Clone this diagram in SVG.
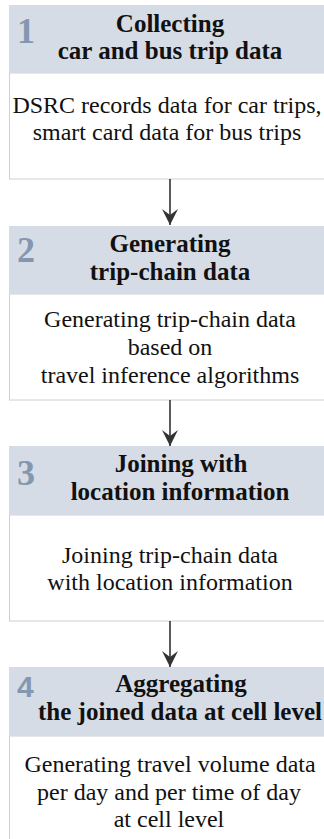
<svg xmlns="http://www.w3.org/2000/svg" width="324" height="839" viewBox="0 0 324 839">
<style>
.hd{fill:#d6dce5}
.bd{fill:#ffffff;stroke:#d0d0d0;stroke-width:1}
.num{font-family:'Liberation Serif','Times New Roman','DejaVu Serif',serif;font-weight:bold;font-size:36px;fill:#8497b0}
.num4{font-family:'Liberation Sans',Arial,sans-serif;font-weight:bold;font-size:30px;fill:#8497b0}
.ht{font-family:'Liberation Serif','Times New Roman','DejaVu Serif',serif;font-weight:bold;font-size:25px;fill:#111;text-anchor:middle}
.bt{font-family:'Liberation Serif','Times New Roman','DejaVu Serif',serif;font-size:24px;fill:#111;text-anchor:middle}
.con{stroke:#333;stroke-width:1.6;fill:none}
</style>
<defs>
<marker id="ah" markerWidth="18" markerHeight="16" refX="16" refY="8" orient="auto" markerUnits="userSpaceOnUse" viewBox="0 0 18 16">
<path d="M0,0 L16,8 L0,16 L6,8 Z" fill="#333"/>
</marker>
</defs>
<g id="node1">
<rect class="bd" x="9.5" y="73" width="330" height="106"/>
<rect class="hd" x="9" y="5" width="320" height="68"/>
<text class="num" x="17" y="43">1</text>
<text class="ht" x="170" y="32">Collecting</text>
<text class="ht" x="170" y="59">car and bus trip data</text>
<text class="bt" x="167" y="113">DSRC records data for car trips,</text>
<text class="bt" x="167" y="140">smart card data for bus trips</text>
</g>
<g id="node2">
<rect class="bd" x="9.5" y="294" width="330" height="106"/>
<rect class="hd" x="9" y="226" width="320" height="68"/>
<text class="num" x="17" y="262">2</text>
<text class="ht" x="170" y="252">Generating</text>
<text class="ht" x="170" y="280">trip-chain data</text>
<text class="bt" x="170" y="327">Generating trip-chain data</text>
<text class="bt" x="170" y="355">based on</text>
<text class="bt" x="170" y="383">travel inference algorithms</text>
</g>
<g id="node3">
<rect class="bd" x="9.5" y="515" width="330" height="106"/>
<rect class="hd" x="9" y="446" width="320" height="69"/>
<text class="num" x="17" y="485">3</text>
<text class="ht" x="181" y="472">Joining with</text>
<text class="ht" x="180" y="500">location information</text>
<text class="bt" x="170" y="563">Joining trip-chain data</text>
<text class="bt" x="170" y="590">with location information</text>
</g>
<g id="node4">
<rect class="bd" x="9.5" y="736" width="330" height="120"/>
<rect class="hd" x="9" y="667" width="320" height="69"/>
<text class="num4" x="17" y="697">4</text>
<text class="ht" x="181" y="692">Aggregating</text>
<text class="ht" x="38" y="720" style="text-anchor:start">the joined data at cell level</text>
<text class="bt" x="170" y="772">Generating travel volume data</text>
<text class="bt" x="169" y="800">per day and per time of day</text>
<text class="bt" x="169" y="827">at cell level</text>
</g>
<g id="connectors">
<line class="con" x1="170" y1="179" x2="170" y2="225" marker-end="url(#ah)"/>
<line class="con" x1="170" y1="400" x2="170" y2="446" marker-end="url(#ah)"/>
<line class="con" x1="170" y1="621" x2="170" y2="667" marker-end="url(#ah)"/>
</g>
</svg>
